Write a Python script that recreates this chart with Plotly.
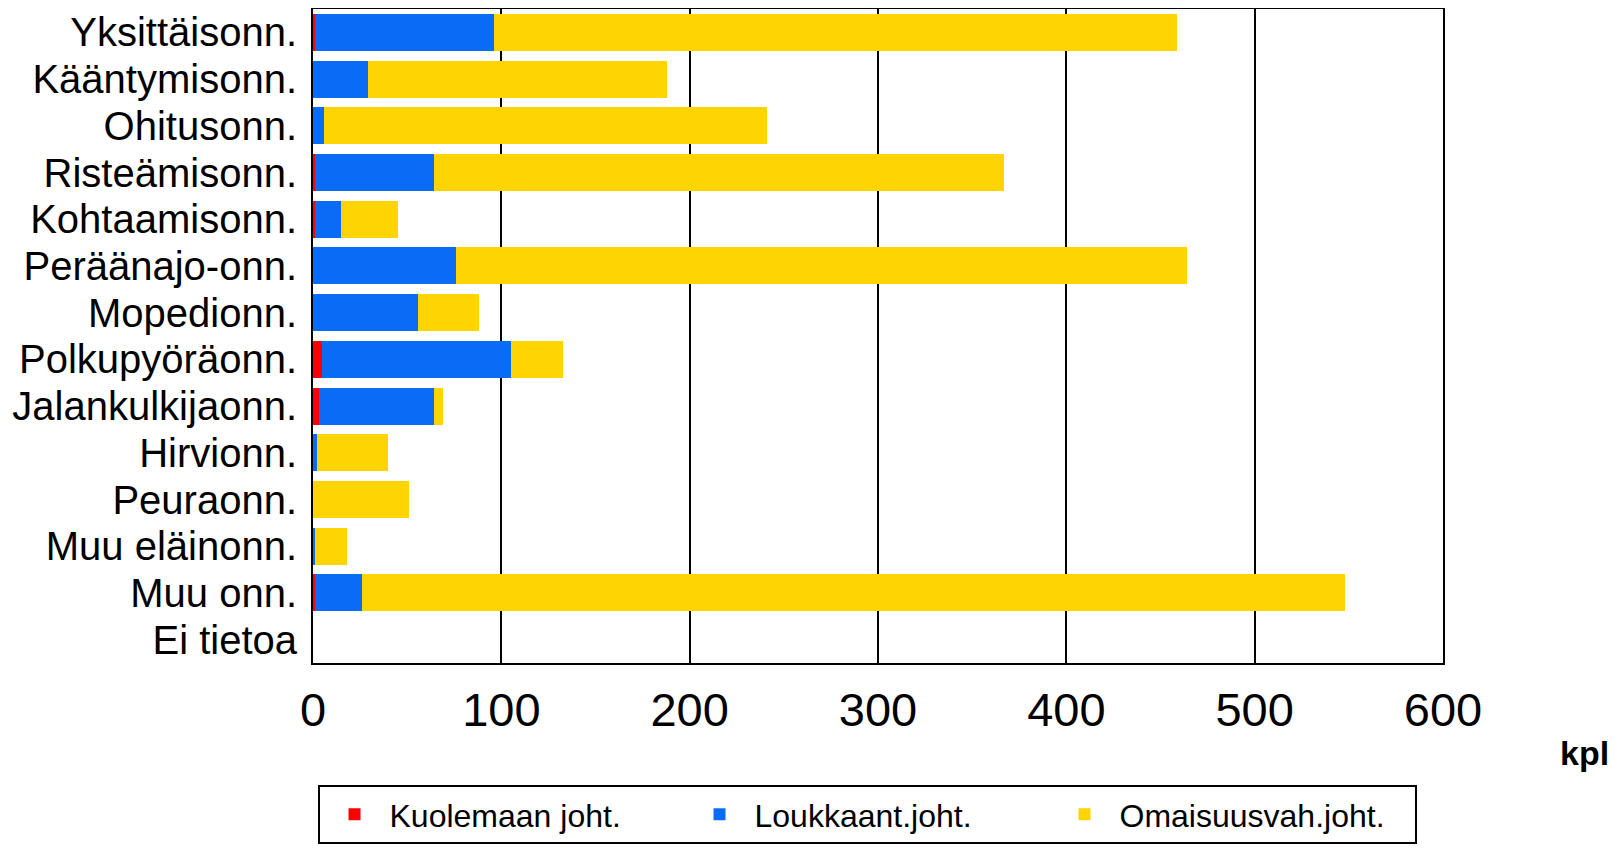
import plotly.graph_objects as go

categories = ["Yksittäisonn.", "Kääntymisonn.", "Ohitusonn.", "Risteämisonn.",
              "Kohtaamisonn.", "Peräänajo-onn.", "Mopedionn.", "Polkupyöräonn.",
              "Jalankulkijaonn.", "Hirvionn.", "Peuraonn.", "Muu eläinonn.",
              "Muu onn.", "Ei tietoa"]
kuolemaan = [1, 0, 0, 1, 1, 0, 0, 5, 3, 0, 0, 0, 1, 0]
loukkaant = [95, 29, 6, 63, 14, 76, 56, 100, 61, 2, 0, 1, 25, 0]
omaisuus = [363, 159, 235, 303, 30, 388, 32, 28, 5, 38, 51, 17, 522, 0]
series_names = ["Kuolemaan joht.", "Loukkaant.joht.", "Omaisuusvah.joht."]
series_colors = ["#ff0000", "#0a6cf5", "#ffd400"]
x_ticks = [0, 100, 200, 300, 400, 500, 600]

fig = go.Figure()
for name, vals, col in zip(series_names, [kuolemaan, loukkaant, omaisuus], series_colors):
    fig.add_trace(go.Bar(y=categories, x=vals, name=name, orientation="h",
                         marker=dict(color=col, line=dict(width=0))))

FONT = "Liberation Sans, Arial, sans-serif"
fig.update_layout(
    width=1621, height=859,
    margin=dict(l=305, r=186, t=1, b=204, autoexpand=False),
    barmode="stack", bargap=0.21,
    plot_bgcolor="white", paper_bgcolor="white",
    font=dict(family=FONT, color="black"),
    showlegend=True,
    legend=dict(orientation="h", x=0.004, xanchor="left", y=-0.1865, yanchor="top",
                bordercolor="black", borderwidth=2, bgcolor="white",
                font=dict(size=32, family=FONT), itemwidth=60,
                entrywidth=290, entrywidthmode="pixels",
                traceorder="normal"),
    xaxis=dict(range=[0, 600], tickmode="array", tickvals=x_ticks,
               ticktext=[str(v) for v in x_ticks],
               showgrid=True, gridcolor="black", gridwidth=2,
               showline=True, linecolor="black", linewidth=2, mirror=True,
               zeroline=False, ticks="", ticklabelstandoff=5, automargin=False,
               tickfont=dict(size=47, family=FONT)),
    yaxis=dict(categoryorder="array", categoryarray=categories, autorange="reversed",
               tickmode="array", tickvals=categories, ticktext=categories,
               showgrid=False, showline=True, linecolor="black", linewidth=2, mirror=True,
               ticks="", ticklabelstandoff=6, automargin=False,
               tickfont=dict(size=40, family=FONT)),
)
fig.add_annotation(text="<b>kpl</b>", xref="paper", yref="paper", x=1.1487, y=-0.1376,
                   xanchor="right", yanchor="middle", showarrow=False,
                   font=dict(size=34, family=FONT, color="black"))

fig.write_html("out.html")
